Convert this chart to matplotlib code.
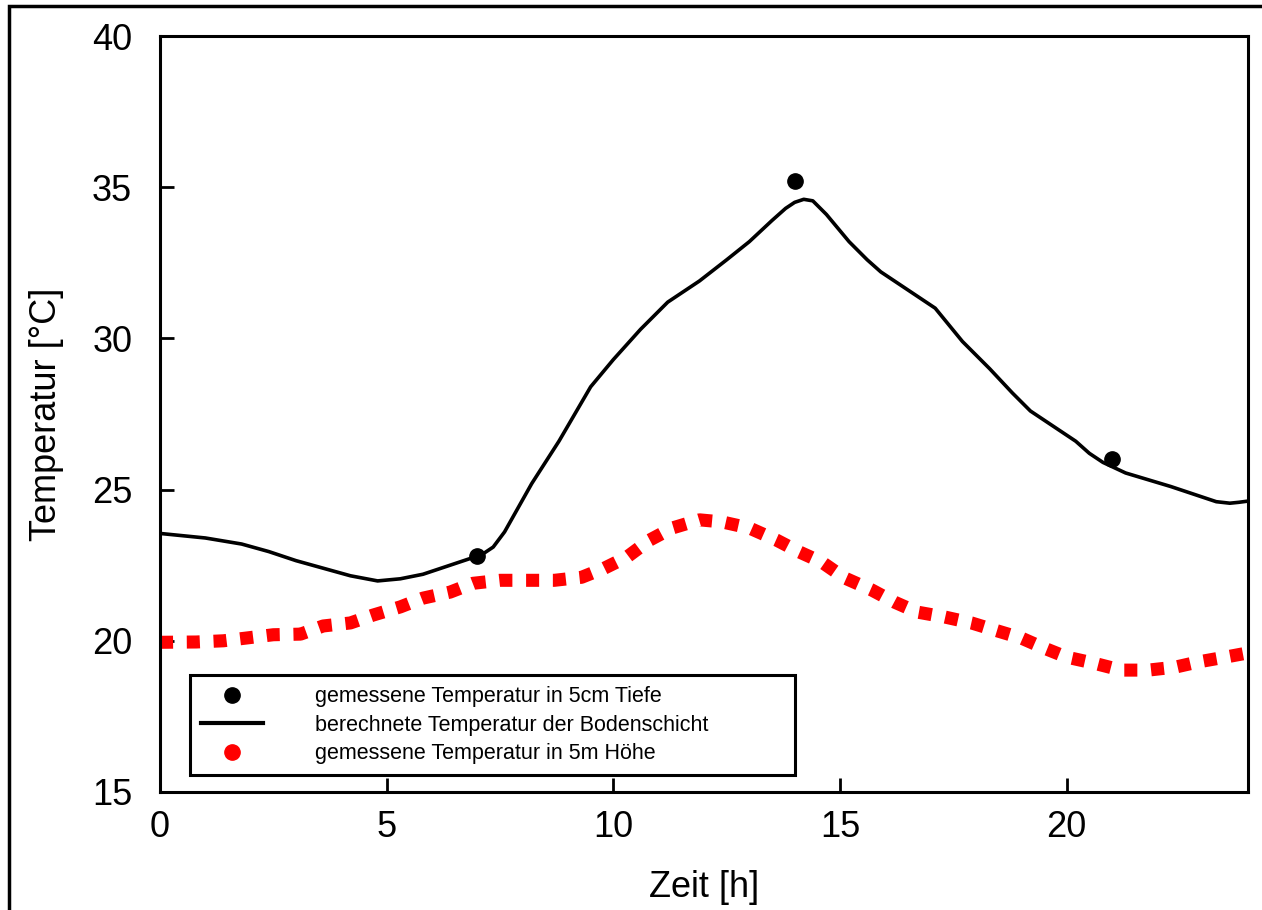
import matplotlib
matplotlib.use('Agg')
import matplotlib.pyplot as plt
from matplotlib.lines import Line2D
from matplotlib.patches import Rectangle

plt.rcParams['font.family'] = ['Liberation Sans', 'DejaVu Sans']

# gemessene Temperatur in 5cm Tiefe
mess_boden_t = [7.0, 14.0, 21.0]
mess_boden_T = [22.8, 35.2, 26.0]

# berechnete Temperatur der Bodenschicht
calc_t = [0.0, 1.0, 1.8, 2.4, 3.0, 3.6, 4.2, 4.8, 5.3, 5.8, 6.3, 6.8, 7.1, 7.35, 7.6, 7.9,
          8.2, 8.8, 9.5, 10.0, 10.6, 11.2, 11.9, 12.5, 13.0, 13.5, 13.8, 14.0, 14.2,
          14.4, 14.7, 15.2, 15.6, 15.9, 16.5, 17.1, 17.7, 18.3, 18.8, 19.2, 19.8, 20.2,
          20.5, 20.8, 21.3, 22.3, 22.9, 23.3, 23.6, 23.8, 24.0]
calc_T = [23.55, 23.4, 23.2, 22.95, 22.65, 22.4, 22.15, 21.98, 22.05, 22.2, 22.45, 22.7, 22.85,
          23.1, 23.6, 24.4, 25.2, 26.6, 28.4, 29.3, 30.3, 31.2, 31.9, 32.6, 33.2, 33.9,
          34.3, 34.5, 34.6, 34.55, 34.1, 33.2, 32.6, 32.2, 31.6, 31.0, 29.9, 29.0, 28.2,
          27.6, 27.0, 26.6, 26.2, 25.9, 25.55, 25.1, 24.8, 24.6, 24.55, 24.58, 24.62]

# gemessene Temperatur in 5m Hoehe
luft_t = [0.0, 0.8, 1.4, 1.9, 2.5, 3.1, 3.6, 4.2, 4.7, 5.3, 5.8, 6.4, 6.9, 7.5, 8.1,
          8.7, 9.3, 9.8, 10.3, 10.8, 11.3, 11.9, 12.4, 13.0, 13.6, 14.1, 14.6, 15.1,
          15.7, 16.2, 16.7, 17.3, 17.9, 18.4, 19.0, 19.5, 20.0, 20.6, 21.2, 21.8, 22.4,
          22.9, 23.5, 24.0]
luft_T = [19.95, 19.96, 20.0, 20.09, 20.2, 20.22, 20.49, 20.59, 20.85, 21.12, 21.41,
          21.61, 21.9, 22.0, 22.0, 22.0, 22.1, 22.4, 22.77, 23.33, 23.73, 24.0, 23.93,
          23.73, 23.33, 22.94, 22.6, 22.08, 21.68, 21.28, 20.95, 20.79, 20.59, 20.36,
          20.09, 19.76, 19.46, 19.26, 19.03, 19.03, 19.13, 19.3, 19.46, 19.6]

labels = ['gemessene Temperatur in 5cm Tiefe',
          'berechnete Temperatur der Bodenschicht',
          'gemessene Temperatur in 5m Höhe']

fig = plt.figure(figsize=(12.62, 9.10), dpi=100)
ax = fig.add_axes([0.1268, 0.1297, 0.8621, 0.8307])

ax.plot(luft_t, luft_T, color='#ff0000', lw=9.4, linestyle=(0, (1, 1.05)),
        dash_capstyle='butt', zorder=2)
ax.plot(calc_t, calc_T, color='black', lw=2.6, solid_joinstyle='round', zorder=3)
ax.plot(mess_boden_t, mess_boden_T, 'o', color='black', markersize=11, zorder=4)

ax.set_xlim(0, 24)
ax.set_ylim(15, 40)
ax.set_xticks([0, 5, 10, 15, 20])
ax.set_yticks([15, 20, 25, 30, 35, 40])
ax.tick_params(direction='in', length=10, width=2, labelsize=26)
ax.tick_params(axis='y', pad=20)
ax.tick_params(axis='x', pad=13)
for s in ax.spines.values():
    s.set_linewidth(2.2)

ax.set_xlabel('Zeit [h]', fontsize=26, labelpad=18)
ax.set_ylabel('Temperatur [°C]', fontsize=26, labelpad=20)

handles = [Line2D([], [], color='black', marker='o', linestyle='none', markersize=11),
           Line2D([], [], color='black', lw=3),
           Line2D([], [], color='#ff0000', marker='o', linestyle='none', markersize=11)]
leg = ax.legend(handles, labels, loc='lower left', bbox_to_anchor=(0.0276, 0.0225, 0.556, 0.136),
                mode='expand', fontsize=15.5, frameon=True, fancybox=False, edgecolor='black',
                framealpha=1, handlelength=2.9, handletextpad=2.4, borderpad=0.5,
                labelspacing=0.35, borderaxespad=0)
leg.get_frame().set_linewidth(2.2)

# aeusserer Rahmen
fig.add_artist(Rectangle((9 / 1262, -0.5), 2.0, 0.5 + (1 - 6 / 910), transform=fig.transFigure,
                         fill=False, edgecolor='black', lw=2.5))

fig.savefig('out.png', dpi=100)
